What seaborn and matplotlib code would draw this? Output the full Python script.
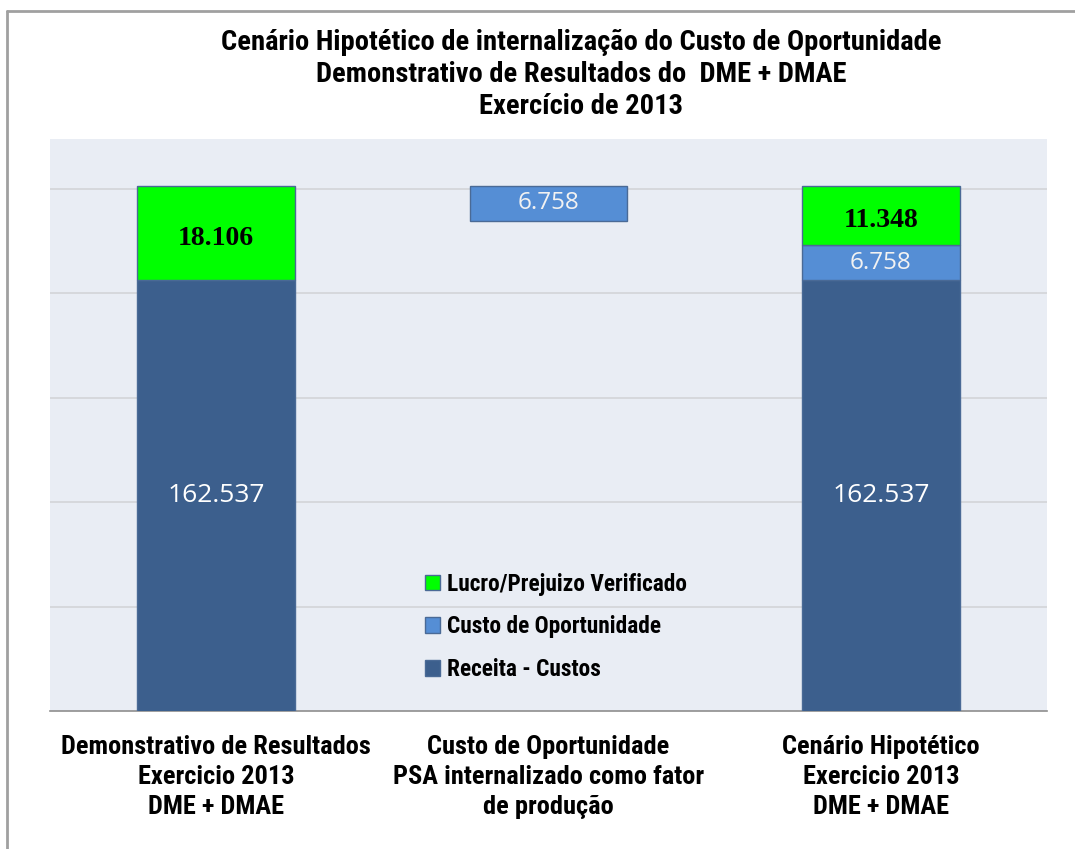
import matplotlib
matplotlib.use("Agg")
import matplotlib.pyplot as plt
import seaborn as sns
import numpy as np
from matplotlib.patches import Patch
from matplotlib.lines import Line2D

# ---------------- data ----------------
categories = [
    "Demonstrativo de Resultados\nExercicio 2013\nDME + DMAE",
    "Custo de Oportunidade\nPSA internalizado como fator\nde produção",
    "Cenário Hipotético\nExercicio 2013\nDME + DMAE",
]
receita_custos = [162537, 0, 162537]
custo_oportunidade = [0, 6758, 6758]
lucro_verificado = [18106, 0, 11348]
series_names = ["Receita - Custos", "Custo de Oportunidade", "Lucro/Prejuizo Verificado"]
title_lines = [
    "Cenário Hipotético de internalização do Custo de Oportunidade",
    "Demonstrativo de Resultados do  DME + DMAE",
    "Exercício de 2013",
]

# ---------------- style ----------------
sns.set_theme(style="white")
FONT = ["Liberation Sans Narrow", "Roboto Condensed", "Liberation Sans", "DejaVu Sans"]
plt.rcParams["font.family"] = FONT

c_dark = "#3C5F8D"
c_light = "#558ED5"
c_green = "#00FF00"
c_edge = "#4A6A96"
bg = "#E9EDF4"

rec = np.array(receita_custos, dtype=float)
cus = np.array(custo_oportunidade, dtype=float)
luc = np.array(lucro_verificado, dtype=float)
# invisible floating base for the middle (waterfall) bar
base = np.array([0.0, rec[0] + luc[0] - cus[1], 0.0])

fig = plt.figure(figsize=(10.75, 8.49), dpi=100)
ax = fig.add_axes([50 / 1075, 1 - 711 / 849, 997 / 1075, 572 / 849])
ax.set_facecolor(bg)

width = 0.475
x = categories
sns.barplot(x=x, y=rec, bottom=base, color=c_dark, width=width, saturation=1,
            edgecolor=c_edge, linewidth=1, ax=ax, zorder=3)
sns.barplot(x=x, y=cus, bottom=base + rec, color=c_light, width=width, saturation=1,
            edgecolor=c_edge, linewidth=1, ax=ax, zorder=3)
sns.barplot(x=x, y=luc, bottom=base + rec + cus, color=c_green, width=width, saturation=1,
            edgecolor=c_edge, linewidth=1, ax=ax, zorder=3)
# hide zero-height bars' edges
for p in ax.patches:
    if p.get_height() == 0:
        p.set_visible(False)

ymin, ymax = 80000, 189600
ax.set_ylim(ymin, ymax)
ax.set_xlim(-0.5, 2.5)
ax.set_yticks(np.arange(100000, 181000, 20000))
ax.yaxis.grid(True, color="#D4D6DA", linewidth=1.3, zorder=0)
ax.set_axisbelow(True)
ax.tick_params(axis="y", left=False, labelleft=False)
for s in ["top", "right", "left"]:
    ax.spines[s].set_visible(False)
ax.spines["bottom"].set_color("#8E8E8E")
ax.spines["bottom"].set_linewidth(1.2)

ax.set_xticks([0, 1, 2])
ax.set_xticklabels(categories, fontsize=19, fontweight="bold", linespacing=1.33)
ax.set_xticks([-0.5, 0.5, 1.5, 2.5], minor=True)
ax.tick_params(axis="x", which="major", length=0, pad=17, labelcolor="black")
ax.tick_params(axis="x", which="minor", length=11, width=1.2, color="#8E8E8E", direction="out")
ax.set_xlabel("")
ax.set_ylabel("")

# value labels
def fmt(v):
    return f"{int(v):,}".replace(",", ".")

for i in range(3):
    if rec[i] > 0:
        lo = max(base[i], ymin)
        ax.text(i, (lo + base[i] + rec[i]) / 2, fmt(rec[i]), ha="center", va="center",
                color="white", fontsize=19, family=["Open Sans", "DejaVu Sans"], zorder=5)
    if cus[i] > 0:
        b = base[i] + rec[i]
        ax.text(i, b + cus[i] / 2, fmt(cus[i]), ha="center", va="center",
                color="#F2F2F2", fontsize=17.5, family=["Open Sans", "DejaVu Sans"], zorder=5)
    if luc[i] > 0:
        b = base[i] + rec[i] + cus[i]
        ax.text(i, b + luc[i] / 2 - 1000, fmt(luc[i]), ha="center", va="center",
                color="black", fontsize=20, fontweight="bold",
                family=["Liberation Serif", "DejaVu Serif"], zorder=5)

# legend
handles = [
    Patch(facecolor=c_green, edgecolor=c_edge, label=series_names[2]),
    Patch(facecolor=c_light, edgecolor=c_edge, label=series_names[1]),
    Patch(facecolor=c_dark, edgecolor=c_edge, label=series_names[0]),
]
leg = ax.legend(handles=handles, loc="center left", bbox_to_anchor=(0.3665, 0.147),
                frameon=False, prop={"weight": "bold", "size": 16.8},
                handlelength=0.65, handleheight=0.65, handletextpad=0.3,
                labelspacing=0.85, borderaxespad=0)
for t in leg.get_texts():
    t.set_color("black")

# title
for k, line in enumerate(title_lines):
    fig.text(581 / 1075, 1 - (42 + 32 * k) / 849, line, ha="center", va="center",
             fontsize=20.5, fontweight="bold", color="black")

# figure border (top and left)
fig.add_artist(Line2D([7 / 1075, 7 / 1075], [0, 1 - 11 / 849], transform=fig.transFigure,
                      color="#A0A0A0", linewidth=2))
fig.add_artist(Line2D([7 / 1075, 1], [1 - 11 / 849, 1 - 11 / 849], transform=fig.transFigure,
                      color="#A0A0A0", linewidth=2))

fig.savefig("out.png", dpi=100)
